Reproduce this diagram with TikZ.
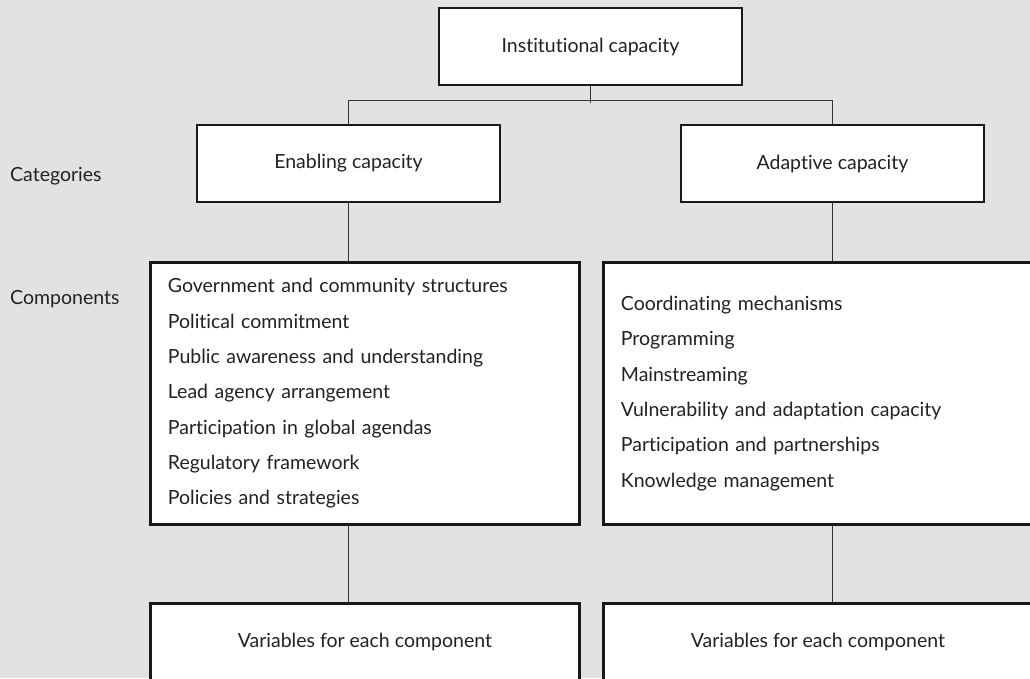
\documentclass[tikz,border=0pt]{standalone}
\usepackage{fontspec}
\setmainfont{Lato}[Ligatures=NoCommon]
\usetikzlibrary{positioning,calc}
\definecolor{paper}{HTML}{E1E2E4}
\definecolor{ink}{HTML}{222222}

\begin{document}
\begin{tikzpicture}[x=1pt,y=-1pt,
        font=\fontsize{19.5}{35.3}\selectfont, text=ink,
        main node/.style={draw=black!90, line width=2.8pt, fill=white, rectangle, align=center, minimum width=303pt, minimum height=77pt, inner sep=0pt},
        list node/.style={draw=black!90, line width=2.8pt, fill=white, rectangle, align=left, text width=394pt, inner xsep=17.5pt, inner ysep=0pt, minimum height=262pt, anchor=north west},
        foot node/.style={draw=black!90, line width=2.8pt, fill=white, rectangle, align=center, minimum width=429pt, minimum height=78pt, inner sep=0pt, anchor=north west},
        side label/.style={anchor=base west, inner sep=0pt},
        link/.style={draw=black!80, line width=1.4pt}]

\useasboundingbox (0,0) rectangle (1030,678);
\fill[paper] (0,0) rectangle (1030,678);
\clip (0,0) rectangle (1030,678);

\node[main node] (1) at (590.5,46.5) {Institutional capacity};
\node[main node] (2) at (348.5,163.5) {Enabling capacity};
\node[main node] (3) at (832.5,163.5) {Adaptive capacity};

\node[side label] (c1) at (10,181) {Categories};
\node[side label] (c2) at (10,304) {Components};

\node[list node] (4) at (149,261) {Government and community structures\\
    Political commitment\\
    Public awareness and understanding\\
    Lead agency arrangement\\
    Participation in global agendas\\
    Regulatory framework\\
    Policies and strategies};
\node[list node] (5) at (602,261) {Coordinating mechanisms\\
    Programming\\
    Mainstreaming\\
    Vulnerability and adaptation capacity\\
    Participation and partnerships\\
    Knowledge management};

\node[foot node] (6) at (149,601.7) {Variables for each component};
\node[foot node] (7) at (602,601.7) {Variables for each component};

\draw[link] (1.south) -- ++(0,16.5);
\draw[link] (2.north) -- ++(0,-23) -| (3.north);
\draw[link] (2.south) -- (2 |- 4.north);
\draw[link] (3.south) -- (3 |- 5.north);
\draw[link] (2 |- 4.south) -- (2 |- 6.north);
\draw[link] (3 |- 5.south) -- (3 |- 7.north);

\end{tikzpicture}
\end{document}
